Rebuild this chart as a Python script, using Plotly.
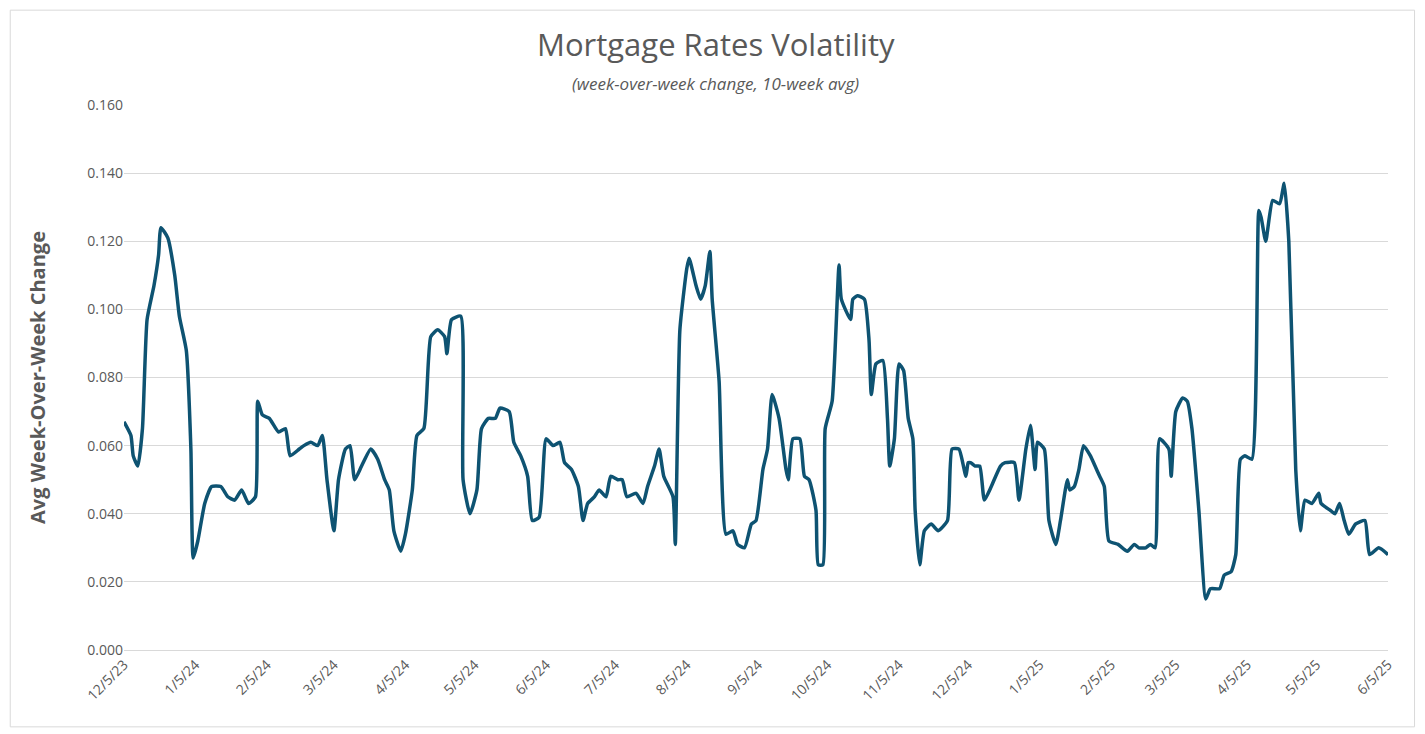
import plotly.graph_objects as go
from datetime import date, timedelta

start = date(2023, 12, 5)
days = [0,3,4,6,8,10,13,15,16,19,22,24,27,29,30,32,35,38,42,45,48,51,54,57,58,60,63,67,70,72,76,78,81,84,86,88,91,93,96,98,100,103,107,110,113,115,117,120,122,125,127,130,133,136,139,140,142,146,147,150,153,155,158,161,163,167,169,172,175,177,180,183,186,189,191,194,197,199,201,204,206,209,211,214,216,218,222,225,227,230,232,234,238,239,241,244,245,248,250,252,254,255,258,261,264,266,269,272,274,277,279,281,284,287,288,290,293,295,297,300,301,303,304,307,310,311,315,316,318,321,323,324,326,329,331,332,334,336,338,340,342,343,345,347,350,353,357,359,362,365,366,367,369,371,373,376,380,382,386,388,391,393,395,396,399,401,404,406,409,410,412,414,416,419,421,423,425,427,431,435,438,440,443,445,447,449,453,454,456,459,461,463,466,469,471,475,477,480,482,484,486,489,492,493,495,498,501,503,505,508,510,512,515,518,519,523,525,527,529,531,534,538,540,544,548]
values = [0.067,0.063,0.057,0.054,0.065,0.097,0.107,0.116,0.124,0.121,0.110,0.098,0.088,0.059,0.027,0.032,0.043,0.048,0.048,0.045,0.044,0.047,0.043,0.045,0.073,0.069,0.068,0.064,0.065,0.057,0.059,0.060,0.061,0.060,0.063,0.050,0.035,0.050,0.059,0.060,0.050,0.054,0.059,0.056,0.050,0.047,0.035,0.029,0.034,0.047,0.063,0.065,0.092,0.094,0.092,0.087,0.097,0.098,0.050,0.040,0.047,0.065,0.068,0.068,0.071,0.070,0.061,0.057,0.051,0.038,0.039,0.062,0.060,0.061,0.055,0.053,0.048,0.038,0.043,0.045,0.047,0.045,0.051,0.050,0.050,0.045,0.046,0.043,0.048,0.054,0.059,0.051,0.045,0.031,0.094,0.112,0.115,0.107,0.103,0.107,0.117,0.103,0.079,0.034,0.035,0.031,0.030,0.037,0.038,0.053,0.059,0.075,0.068,0.053,0.050,0.062,0.062,0.051,0.050,0.041,0.025,0.025,0.065,0.073,0.113,0.103,0.097,0.103,0.104,0.103,0.091,0.075,0.084,0.085,0.068,0.054,0.062,0.084,0.082,0.068,0.062,0.041,0.025,0.035,0.037,0.035,0.038,0.059,0.059,0.051,0.055,0.055,0.054,0.054,0.044,0.048,0.054,0.055,0.055,0.044,0.059,0.066,0.053,0.061,0.059,0.038,0.031,0.038,0.050,0.047,0.048,0.053,0.060,0.057,0.054,0.051,0.048,0.032,0.031,0.029,0.031,0.030,0.030,0.031,0.030,0.062,0.059,0.051,0.070,0.074,0.073,0.065,0.041,0.015,0.018,0.018,0.022,0.023,0.028,0.056,0.057,0.056,0.129,0.127,0.120,0.132,0.131,0.137,0.120,0.053,0.035,0.044,0.043,0.046,0.043,0.041,0.040,0.043,0.038,0.034,0.037,0.038,0.028,0.030,0.028]
tick_labels = ["12/5/23","1/5/24","2/5/24","3/5/24","4/5/24","5/5/24","6/5/24","7/5/24","8/5/24","9/5/24","10/5/24","11/5/24","12/5/24","1/5/25","2/5/25","3/5/25","4/5/25","5/5/25","6/5/25"]

x = [start + timedelta(days=d) for d in days]
def parse(s):
    m, d, y = s.split("/")
    return date(2000 + int(y), int(m), int(d))
tickvals = [parse(s) for s in tick_labels]

fig = go.Figure(go.Scatter(x=x, y=values, mode="lines",
                           line=dict(color="#0e5372", width=3.5, shape="spline", smoothing=0.5)))
fig.update_layout(
    width=1425, height=734, paper_bgcolor="white", plot_bgcolor="white",
    margin=dict(l=116, r=45, t=97, b=92, autoexpand=False),
    showlegend=False,
    font=dict(family="Open Sans, Liberation Sans, sans-serif", color="#595959"),
)
fig.add_annotation(text="Mortgage Rates Volatility", xref="paper", yref="paper", x=0.468, y=1.0,
                   yshift=84, showarrow=False, font=dict(size=31, color="#595959"), xanchor="center")
fig.add_annotation(text="<i>(week-over-week change, 10-week avg)</i>", xref="paper", yref="paper",
                   x=0.468, y=1.0, yshift=35, showarrow=False, font=dict(size=17, color="#595959"), xanchor="center")
fig.add_shape(type="rect", xref="paper", yref="paper", x0=-0.090, x1=1.021, y0=-0.141, y1=1.174,
              line=dict(color="#d9d9d9", width=1), layer="below")
fig.update_xaxes(range=[start, parse("6/5/25")], tickvals=tickvals, ticktext=tick_labels,
                 tickangle=-45, showgrid=False, showline=True, linecolor="#d9d9d9",
                 tickfont=dict(size=14, color="#595959"), ticks="", automargin=False)
fig.update_yaxes(range=[0, 0.16], dtick=0.02, tickformat=".3f", gridcolor="#d9d9d9",
                 zeroline=False, tickfont=dict(size=14, color="#595959"), automargin=False,
                 title=dict(text="<b>Avg Week-Over-Week Change</b>", font=dict(size=20, color="#595959"), standoff=36))
fig.write_html("out.html")
